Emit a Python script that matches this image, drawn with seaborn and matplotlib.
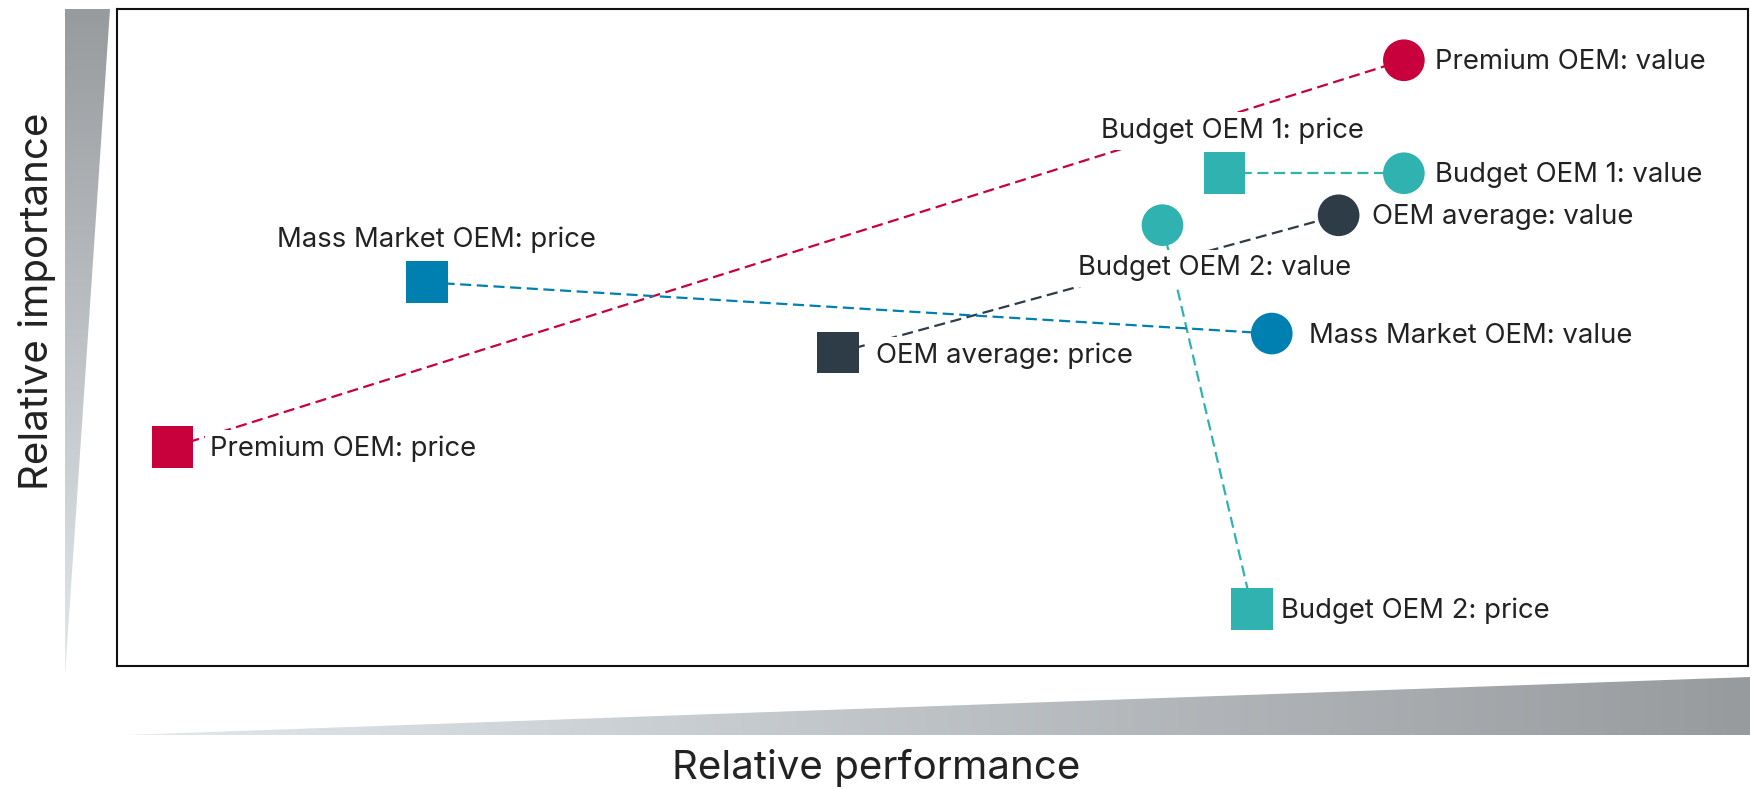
import numpy as np
import pandas as pd
import matplotlib
matplotlib.use("Agg")
import matplotlib.pyplot as plt
from matplotlib.patches import Polygon
from matplotlib.colors import LinearSegmentedColormap
import seaborn as sns

# data: relative performance (x) vs relative importance (y), 0-100 scale
companies = ["Premium OEM", "Budget OEM 1", "Budget OEM 2", "OEM average", "Mass Market OEM"]
price_x = [3.4, 67.9, 69.6, 44.2, 19.0]
price_y = [33.3, 75.0, 8.7, 47.7, 58.4]
value_x = [78.9, 78.9, 64.1, 74.9, 70.8]
value_y = [92.2, 75.0, 67.1, 68.6, 50.6]
colors = {
    "Premium OEM": "#c8003c",
    "Budget OEM 1": "#30b3b0",
    "Budget OEM 2": "#30b3b0",
    "OEM average": "#2e3c48",
    "Mass Market OEM": "#0080b0",
}

rows = []
for c, px, py, vx, vy in zip(companies, price_x, price_y, value_x, value_y):
    rows.append({"company": c, "kind": "price", "x": px, "y": py})
    rows.append({"company": c, "kind": "value", "x": vx, "y": vy})
df = pd.DataFrame(rows)
df["label"] = df["company"] + ": " + df["kind"]

# label placement (baseline offset in pixels, ha)
label_pos = {
    "Premium OEM: price": (38, -9, "left"),
    "Premium OEM: value": (31, -9, "left"),
    "Budget OEM 1: price": (8, 35, "center"),
    "Budget OEM 1: value": (31, -9, "left"),
    "Budget OEM 2: value": (52, -50, "center"),
    "Budget OEM 2: price": (29, -9, "left"),
    "OEM average: value": (33, -9, "left"),
    "OEM average: price": (38, -10, "left"),
    "Mass Market OEM: price": (10, 35, "center"),
    "Mass Market OEM: value": (37, -9, "left"),
}

sns.set_theme(style="white")
plt.rcParams["font.family"] = ["Inter", "DejaVu Sans"]

fig = plt.figure(figsize=(17.5, 7.89), dpi=100)

# background wedges in pixel coordinates
bg = fig.add_axes([0, 0, 1, 1], zorder=-1)
bg.set_xlim(0, 1750)
bg.set_ylim(789, 0)
bg.axis("off")
cmap = LinearSegmentedColormap.from_list("wedge", ["#e2e8ec", "#989b9e"])

left_poly = Polygon([(65, 9), (110, 9), (65, 676)], closed=True, transform=bg.transData)
grad_v = np.linspace(1, 0, 256).reshape(-1, 1)
im = bg.imshow(grad_v, cmap=cmap, extent=(65, 110, 676, 9), aspect="auto")
im.set_clip_path(left_poly)

bottom_poly = Polygon([(126, 735), (1750, 677), (1750, 735)], closed=True, transform=bg.transData)
grad_h = np.linspace(0, 1, 256).reshape(1, -1)
im2 = bg.imshow(grad_h, cmap=cmap, extent=(126, 1750, 735, 677), aspect="auto")
im2.set_clip_path(bottom_poly)

bg.text(37, 301, "Relative importance", rotation=90, ha="center", va="center",
        fontsize=29, color="#222222")
bg.text(876, 768, "Relative performance", ha="center", va="center",
        fontsize=29, color="#222222")

ax = fig.add_axes([117 / 1750, 1 - 666 / 789, (1748 - 117) / 1750, (666 - 9) / 789])
ax.set_xlim(0, 100)
ax.set_ylim(0, 100)
ax.set_xticks([])
ax.set_yticks([])
for s in ax.spines.values():
    s.set_color("#111111")
    s.set_linewidth(1.5)
    s.set_visible(True)

for c, px, py, vx, vy in zip(companies, price_x, price_y, value_x, value_y):
    ax.plot([px, vx], [py, vy], color=colors[c], lw=1.6, dashes=(5, 2.5), zorder=1)

sns.scatterplot(data=df, x="x", y="y", hue="company", palette=colors, style="kind",
                markers={"price": "s", "value": "o"}, s=900, linewidth=0,
                legend=False, ax=ax, zorder=3)
ax.set_xlabel("")
ax.set_ylabel("")

for _, r in df.iterrows():
    dx, dy, ha = label_pos[r["label"]]
    ax.annotate(r["label"], (r["x"], r["y"]), xytext=(dx, dy), textcoords="offset pixels",
                ha=ha, va="baseline", fontsize=19.8, color="#222222", zorder=2,
                bbox=dict(boxstyle="square,pad=0.2", fc="white", ec="none"))

fig.savefig("out.png", dpi=100)
